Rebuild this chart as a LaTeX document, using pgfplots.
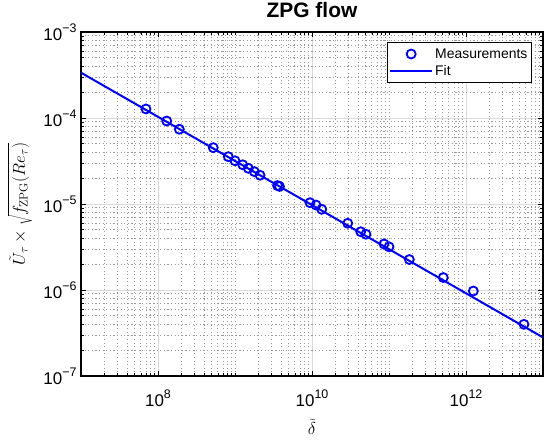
\documentclass[border=0pt]{standalone}
\usepackage[no-math]{fontspec}
\setmainfont{Liberation Sans}
\usepackage{pgfplots}
\pgfplotsset{compat=1.18}
\newcommand{\tl}[1]{10\raisebox{0.45em}{\fontsize{12.5}{12.5}\selectfont #1}}
\definecolor{mblue}{RGB}{0,0,255}
\begin{document}
\begin{tikzpicture}
\path[use as bounding box] (-81bp,-66bp) rectangle (469bp,376bp);
\begin{axis}[
  at={(0,0)}, anchor=south west, scale only axis,
  width=462bp, height=344bp,
  xmode=log, ymode=log,
  xmin=1e7, xmax=1e13, ymin=1e-7, ymax=1e-3,
  xtick={1e8,1e10,1e12},
  xticklabels={\tl{8},\tl{10},\tl{12}},
  minor xtick={2e7,3e7,4e7,5e7,6e7,7e7,8e7,9e7,
    2e8,3e8,4e8,5e8,6e8,7e8,8e8,9e8,1e9,
    2e9,3e9,4e9,5e9,6e9,7e9,8e9,9e9,
    2e10,3e10,4e10,5e10,6e10,7e10,8e10,9e10,1e11,
    2e11,3e11,4e11,5e11,6e11,7e11,8e11,9e11,
    2e12,3e12,4e12,5e12,6e12,7e12,8e12,9e12},
  ytick={1e-7,1e-6,1e-5,1e-4,1e-3},
  yticklabels={\tl{−7},\tl{−6},\tl{−5},\tl{−4},\tl{−3}},
  minor ytick={2e-7,3e-7,4e-7,5e-7,6e-7,7e-7,8e-7,9e-7,
    2e-6,3e-6,4e-6,5e-6,6e-6,7e-6,8e-6,9e-6,
    2e-5,3e-5,4e-5,5e-5,6e-5,7e-5,8e-5,9e-5,
    2e-4,3e-4,4e-4,5e-4,6e-4,7e-4,8e-4,9e-4},
  ticklabel style={font=\fontsize{17}{20}\selectfont},
  xticklabel style={anchor=base, yshift=-30bp, inner sep=1bp},
  yticklabel style={xshift=-1bp},
  tick align=inside,
  major tick length=5bp, minor tick length=3bp,
  every tick/.style={black, line width=0.8pt},
  axis line style={black, line width=1.1pt},
  grid=both,
  major grid style={color=black!15, line width=0.9pt},
  minor grid style={color=black!40, line width=0.9pt, dash pattern=on 1.1bp off 2.5bp},
  title={ZPG flow},
  title style={at={(axis description cs:0.5,1)}, anchor=base, yshift=9bp,
    font=\fontsize{21}{24}\selectfont\bfseries},
  xlabel={$\tilde{\delta}$},
  ylabel={$\tilde{U}_\tau \times \sqrt{f_{\mathrm{ZPG}}(Re_\tau)}$},
  every axis x label/.style={at={(axis description cs:0.5,0)}, anchor=center, yshift=-51bp, inner sep=1bp, font=\fontsize{17}{19}\selectfont},
  every axis y label/.style={at={(axis description cs:0,0.5)}, xshift=-61bp, rotate=90, anchor=center, font=\fontsize{17}{19}\selectfont},
  legend style={at={(0.976,0.971)}, anchor=north east, draw=black, line width=1pt,
    font=\fontsize{14}{16}\selectfont, fill=white, row sep=1.5bp, inner xsep=2bp, inner ysep=4bp},
  legend cell align=left,
  legend image code/.code={\draw[mark repeat=2,mark phase=2,#1] plot coordinates {(0bp,0bp) (21bp,0bp) (42bp,0bp)};},
]
\addplot[only marks, mark=o, mark size=4.5bp, mblue, mark options={line width=1.8bp}]
coordinates {
(6.98e7,1.274e-4)
(1.297e8,9.23e-5)
(1.892e8,7.40e-5)
(5.22e8,4.52e-5)
(8.18e8,3.55e-5)
(1.0e9,3.18e-5)
(1.259e9,2.86e-5)
(1.489e9,2.60e-5)
(1.782e9,2.38e-5)
(2.113e9,2.16e-5)
(3.565e9,1.64e-5)
(3.78e9,1.60e-5)
(9.42e9,1.035e-5)
(1.127e10,9.73e-6)
(1.337e10,8.67e-6)
(2.91e10,5.97e-6)
(4.29e10,4.76e-6)
(5.02e10,4.45e-6)
(8.61e10,3.43e-6)
(1.0e11,3.18e-6)
(1.837e11,2.26e-6)
(5.07e11,1.396e-6)
(1.245e12,9.73e-7)
(5.66e12,3.99e-7)
};
\addlegendentry{Measurements}
\addplot[mblue, line width=2bp, no marks]
coordinates {(1e7,3.365e-4) (1e13,2.81e-7)};
\addlegendentry{Fit}
\end{axis}
\end{tikzpicture}
\end{document}
